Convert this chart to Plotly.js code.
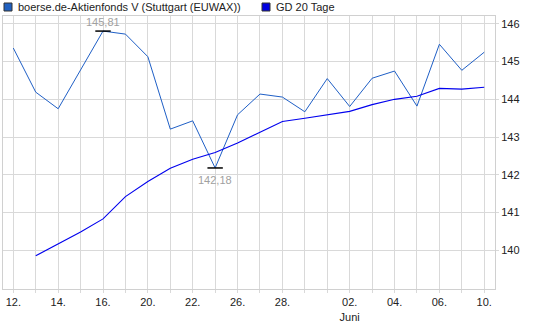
<!DOCTYPE html>
<html><head><meta charset="utf-8">
<script src="https://cdn.plot.ly/plotly-3.0.1.min.js"></script>
<style>html,body{margin:0;padding:0;background:#fff}#c{width:537px;height:323px}</style>
</head><body><div id="c"></div>
<script>
const xLabels = ["12.","","14.","","16.","","20.","","22.","","26.","","28.","","","02.<br>Juni","","04.","","06.","","10."];
const priceName = "boerse.de-Aktienfonds V (Stuttgart (EUWAX))";
const gdName = "GD 20 Tage";
const price = [145.36,144.19,143.75,144.78,145.81,145.73,145.13,143.21,143.43,142.18,143.59,144.14,144.06,143.67,144.55,143.81,144.56,144.75,143.82,145.46,144.77,145.25];
const gd = [null,139.85,140.16,140.48,140.83,141.42,141.82,142.17,142.41,142.59,142.84,143.13,143.41,143.50,143.59,143.68,143.86,144.00,144.08,144.29,144.27,144.32];
const yTicks = [140,141,142,143,144,145,146];
const hiLabel = "145,81", loLabel = "142,18";

const idx = price.map((_, i) => i);
const hiI = price.indexOf(Math.max(...price));
const loI = price.indexOf(Math.min(...price));

const traces = [
  {x: idx, y: price, type: 'scatter', mode: 'lines', line: {color: '#1f5fc6', width: 1}, name: priceName, hoverinfo: 'none'},
  {x: idx, y: gd, type: 'scatter', mode: 'lines', line: {color: '#0000ee', width: 1.1}, name: gdName, hoverinfo: 'none'},
  {x: [hiI, loI], y: [price[hiI], price[loI]], type: 'scatter', mode: 'markers',
   marker: {symbol: 'line-ew', size: 11, line: {color: '#000', width: 1.5}}, hoverinfo: 'none'}
];

const font = {family: 'Liberation Sans, Arial, sans-serif', size: 11, color: '#222'};
const layout = {
  width: 537, height: 323,
  margin: {l: 3, r: 42, t: 16, b: 34},
  paper_bgcolor: '#fff', plot_bgcolor: '#fff',
  showlegend: false,
  font: font,
  xaxis: {
    range: [-0.46, 21.48], tickvals: idx, ticktext: xLabels, tickmode: 'array',
    showgrid: true, gridcolor: '#d9d9d9', gridwidth: 1,
    ticks: 'outside', ticklen: 3, tickcolor: '#d9d9d9',
    showline: true, linecolor: '#d0d0d0', mirror: true, zeroline: false,
    tickfont: font, fixedrange: true
  },
  yaxis: {
    side: 'right', range: [138.97, 146.21], tickvals: yTicks, tickmode: 'array',
    showgrid: true, gridcolor: '#d9d9d9', gridwidth: 1,
    ticks: 'outside', ticklen: 3, tickcolor: '#d9d9d9',
    showline: true, linecolor: '#d0d0d0', mirror: true, zeroline: false,
    tickfont: font, fixedrange: true
  },
  shapes: [
    {type: 'rect', xref: 'paper', yref: 'paper', xsizemode: 'pixel', ysizemode: 'pixel', xanchor: 0, yanchor: 1,
     x0: 1, x1: 9, y0: 5, y1: 13, fillcolor: '#2060c0', line: {color: '#333', width: 1}},
    {type: 'rect', xref: 'paper', yref: 'paper', xsizemode: 'pixel', ysizemode: 'pixel', xanchor: 0, yanchor: 1,
     x0: 259, x1: 267, y0: 5, y1: 13, fillcolor: '#0000e0', line: {color: '#333', width: 1}}
  ],
  annotations: [
    {xref: 'paper', yref: 'paper', x: 0, y: 1, xshift: 13, yshift: 9, xanchor: 'left', yanchor: 'middle',
     text: priceName, showarrow: false, font: font},
    {xref: 'paper', yref: 'paper', x: 0, y: 1, xshift: 271, yshift: 9, xanchor: 'left', yanchor: 'middle',
     text: gdName, showarrow: false, font: font},
    {x: hiI, y: price[hiI], text: hiLabel, showarrow: false, yanchor: 'bottom', yshift: 1,
     font: {family: font.family, size: 11, color: '#a0a0a0'}},
    {x: loI, y: price[loI], text: loLabel, showarrow: false, yanchor: 'top', yshift: -4,
     font: {family: font.family, size: 11, color: '#a0a0a0'}}
  ]
};
Plotly.newPlot('c', traces, layout, {staticPlot: true, displayModeBar: false});
</script></body></html>
